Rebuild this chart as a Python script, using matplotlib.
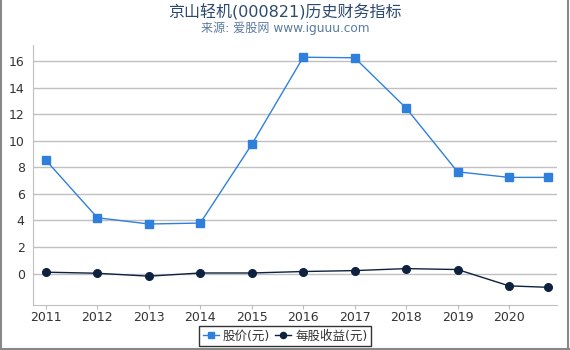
import matplotlib.pyplot as plt
from matplotlib.lines import Line2D

plt.rcParams['font.family'] = ['DejaVu Sans', 'Noto Sans CJK SC']

# --- Данные ---
years = [2011, 2012, 2013, 2014, 2015, 2016, 2017, 2018, 2019, 2020, 2020.76]
year_ticks = [2011, 2012, 2013, 2014, 2015, 2016, 2017, 2018, 2019, 2020]
price = [8.53, 4.2, 3.73, 3.8, 9.72, 16.29, 16.25, 12.46, 7.66, 7.24, 7.24]
eps = [0.1, 0.02, -0.2, 0.04, 0.04, 0.15, 0.22, 0.37, 0.3, -0.93, -1.04]

title = "京山轻机(000821)历史财务指标"
subtitle = "来源: 爱股网 www.iguuu.com"

fig = plt.figure(figsize=(5.7, 3.5), dpi=100)
ax = fig.add_axes([0.058, 0.129, 0.919, 0.742])

ax.plot(years, price, color='#2f80dc', marker='s', markersize=5.5, linewidth=1,
        label='股价(元)', zorder=3)
ax.plot(years, eps, color='#0e223f', marker='o', markersize=5.5, linewidth=1,
        label='每股收益(元)', zorder=3)

ax.set_xlim(2010.75, 2020.93)
ax.set_ylim(-2.36, 17.2)
ax.set_xticks(year_ticks)
ax.set_yticks([0, 2, 4, 6, 8, 10, 12, 14, 16])
ax.tick_params(axis='both', labelsize=9, colors='#333333')
ax.tick_params(axis='y', length=0, pad=6)
ax.tick_params(axis='x', color='#bbbbbb', length=3, pad=1.5)
ax.grid(axis='y', color='#c0c0c0', linewidth=1)
ax.set_axisbelow(True)
for side in ['top', 'right']:
    ax.spines[side].set_visible(False)
for side in ['left', 'bottom']:
    ax.spines[side].set_color('#c0c0c0')

fig.text(0.5, 0.965, title, ha='center', va='center', fontsize=11.5,
         color='#2c4a6e')
fig.text(0.5, 0.918, subtitle, ha='center', va='center', fontsize=8.7,
         color='#5a7ba0')

leg = fig.legend(loc='center', bbox_to_anchor=(0.5, 0.04), ncol=2,
                 frameon=True, fancybox=False, edgecolor='black',
                 handlelength=1.3, handletextpad=0.3, columnspacing=0.4,
                 borderpad=0.3, markerscale=0.8, labelcolor='#333333',
                 prop={'family': ['DejaVu Sans', 'Noto Sans CJK SC'], 'size': 9})
leg.get_frame().set_linewidth(1)

# рамка вокруг картинки
for xs, ys in [([0.001, 0.001], [0, 1]), ([0.997, 0.997], [0, 1]), ([0, 1], [0.003, 0.003])]:
    fig.add_artist(Line2D(xs, ys, color='#888888', linewidth=1.5, transform=fig.transFigure))

fig.savefig('out.png', dpi=100)
